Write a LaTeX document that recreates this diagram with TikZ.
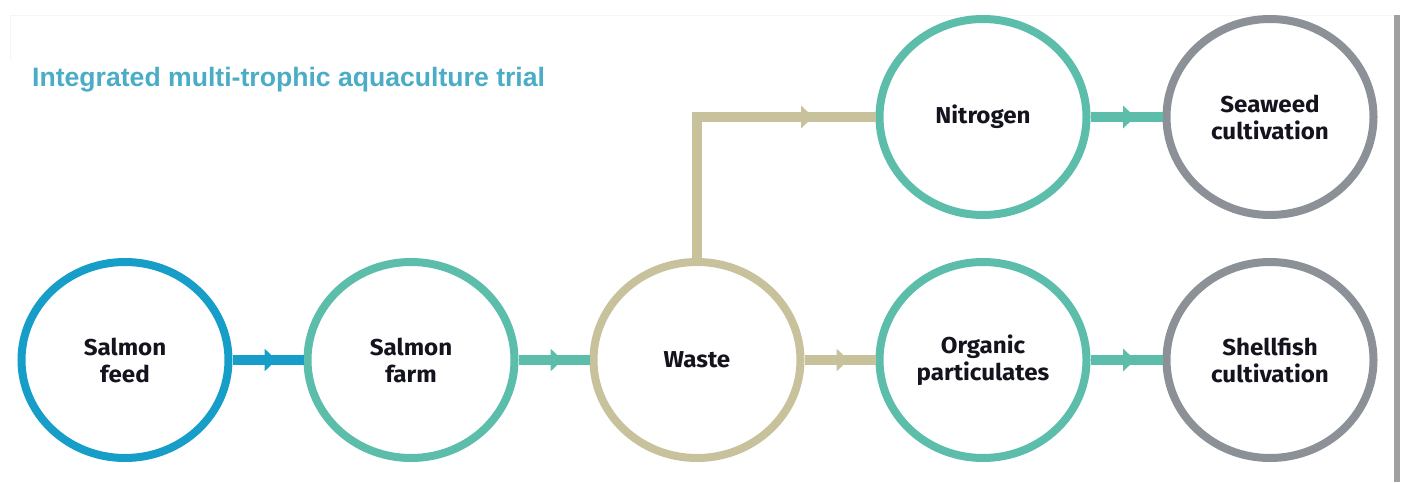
\documentclass[tikz,border=0pt]{standalone}
\usepackage{fontspec}
\setmainfont{Liberation Sans}
\newfontfamily\labelfont{Fira Sans}[FakeStretch=1.05]
\usetikzlibrary{shapes.geometric,arrows.meta,decorations.markings}
\definecolor{feedblue}{RGB}{22,158,200}
\definecolor{tealc}{RGB}{92,190,170}
\definecolor{khakic}{RGB}{200,194,156}
\definecolor{greyc}{RGB}{140,145,152}
\definecolor{titleblue}{RGB}{75,172,198}
\definecolor{txtc}{RGB}{20,20,30}
\definecolor{barc}{RGB}{160,160,160}
\tikzset{
  circ/.style={ellipse, draw=#1, line width=8pt, minimum width=207pt, minimum height=196pt,
    inner sep=0pt, fill=white, align=center, text=txtc,
    font=\labelfont\bfseries\fontsize{23}{27}\selectfont},
  flow/.style={line width=10pt, postaction=decorate,
    decoration={markings, mark=at position #1 with {\arrow{Triangle[length=12pt,width=22pt]}}}}
}
\begin{document}
\begin{tikzpicture}[x=1pt,y=-1pt]
\useasboundingbox (0,0) rectangle (1402,482);
% faint frame lines and right bar
\draw[black!4, line width=1pt] (10,15) -- (1394,15);
\draw[black!4, line width=1pt] (10,15) -- (10,60);
\fill[barc] (1394,15) rectangle (1400,482);
% title
\node[anchor=base west, inner sep=0pt, text=titleblue, font=\bfseries\fontsize{26.6}{30}\selectfont] (title) at (32,86) {Integrated multi-trophic aquaculture trial};
% nodes
\node[circ=feedblue] (feed) at (125,360) {Salmon\\feed};
\node[circ=tealc] (farm) at (411,360) {Salmon\\farm};
\node[circ=khakic] (waste) at (697,360) {Waste};
\node[circ=tealc] (org) at (983,360) {Organic\\particulates};
\node[circ=greyc] (shell) at (1270,360) {Shellfish\\cultivation};
\node[circ=tealc] (nitro) at (983,117) {Nitrogen};
\node[circ=greyc] (sea) at (1270,117) {Seaweed\\cultivation};
\coordinate (corner) at (waste.north |- nitro.west);
% connectors
\draw[feedblue, flow=0.62] (feed) -- (farm);
\draw[tealc, flow=0.62] (farm) -- (waste);
\draw[khakic, flow=0.62] (waste) -- (org);
\draw[tealc, flow=0.62] (org) -- (shell);
\draw[tealc, flow=0.62] (nitro) -- (sea);
\draw[khakic, line width=10pt] (waste.north) -- ([yshift=-5pt]corner);
\draw[khakic, flow=0.66] ([xshift=-5pt]corner) -- (nitro.west);
\end{tikzpicture}
\end{document}
